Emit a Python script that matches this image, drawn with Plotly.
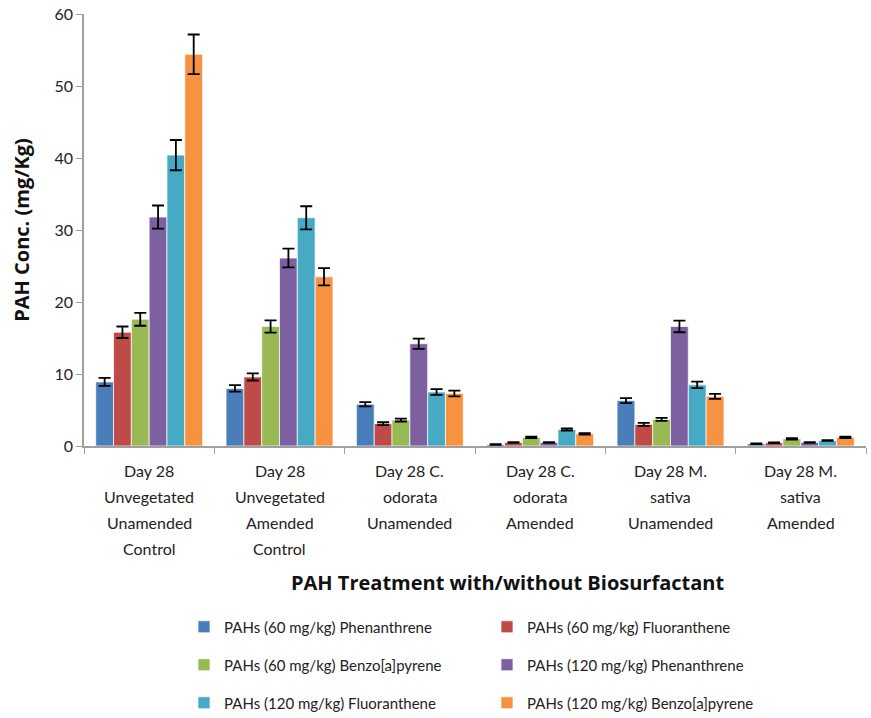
import plotly.graph_objects as go

categories = [
    "Day 28<br>Unvegetated<br>Unamended<br>Control",
    "Day 28<br>Unvegetated<br>Amended<br>Control",
    "Day 28 C.<br>odorata<br>Unamended",
    "Day 28 C.<br>odorata<br>Amended",
    "Day 28 M.<br>sativa<br>Unamended",
    "Day 28 M.<br>sativa<br>Amended",
]

series_names = [
    "PAHs (60 mg/kg) Phenanthrene",
    "PAHs (60 mg/kg) Fluoranthene",
    "PAHs (60 mg/kg) Benzo[a]pyrene",
    "PAHs (120 mg/kg) Phenanthrene",
    "PAHs (120 mg/kg) Fluoranthene",
    "PAHs (120 mg/kg) Benzo[a]pyrene",
]

phe_60 = [8.9, 8.0, 5.8, 0.2, 6.3, 0.3]
flu_60 = [15.8, 9.6, 3.1, 0.5, 3.0, 0.45]
bap_60 = [17.6, 16.6, 3.6, 1.2, 3.7, 1.0]
phe_120 = [31.8, 26.1, 14.2, 0.5, 16.6, 0.5]
flu_120 = [40.4, 31.7, 7.5, 2.3, 8.5, 0.75]
bap_120 = [54.4, 23.5, 7.3, 1.7, 6.9, 1.2]

err_phe_60 = [0.55, 0.45, 0.3, 0.05, 0.35, 0.05]
err_flu_60 = [0.8, 0.5, 0.2, 0.05, 0.2, 0.05]
err_bap_60 = [0.9, 0.85, 0.2, 0.1, 0.2, 0.1]
err_phe_120 = [1.6, 1.3, 0.7, 0.05, 0.8, 0.05]
err_flu_120 = [2.1, 1.6, 0.4, 0.15, 0.45, 0.05]
err_bap_120 = [2.75, 1.2, 0.4, 0.1, 0.35, 0.1]

values = [phe_60, flu_60, bap_60, phe_120, flu_120, bap_120]
errors = [err_phe_60, err_flu_60, err_bap_60, err_phe_120, err_flu_120, err_bap_120]
colors = ["#4A7EBB", "#BE4B48", "#98B954", "#7D60A0", "#46AAC5", "#F69240"]

FONT = "Lato, 'Open Sans', sans-serif"
TITLE_FONT = "'Open Sans', sans-serif"
PLOT_H = 432  # plot area height in px

fig = go.Figure()
legend_ids = ["legend", "legend", "legend2", "legend2", "legend3", "legend3"]
for name, vals, errs, col, lg in zip(series_names, values, errors, colors, legend_ids):
    fig.add_trace(go.Bar(
        x=categories, y=vals, name=name, legend=lg,
        marker=dict(color=col, line=dict(color="rgba(255,255,255,0.7)", width=1)),
        error_y=dict(type="data", array=errs, visible=True, color="black",
                     thickness=1.8, width=6),
    ))

# category labels, one annotation per line
line_gap = 26
for cat in categories:
    for i, line in enumerate(cat.split("<br>")):
        fig.add_annotation(
            x=cat, xref="x", y=-(24 + i * line_gap) / PLOT_H, yref="y domain",
            text=line, showarrow=False, font=dict(size=16, color="#222", family=FONT),
            yanchor="middle", xanchor="center",
        )

leg_common = dict(orientation="h", bgcolor="rgba(0,0,0,0)",
                  font=dict(size=15, color="#222", family=FONT),
                  entrywidth=258, entrywidthmode="pixels",
                  xref="container", yref="container", xanchor="left", yanchor="middle",
                  itemwidth=30, traceorder="normal")

fig.update_layout(
    width=871, height=718,
    margin=dict(l=84, r=5, t=14, b=272),
    plot_bgcolor="white", paper_bgcolor="white",
    barmode="group", bargap=0.18, bargroupgap=0,
    font=dict(family=FONT, color="#222"),
    showlegend=True,
    legend=dict(**leg_common, x=184 / 871, y=1 - 627 / 718),
    legend2=dict(**leg_common, x=184 / 871, y=1 - 665 / 718),
    legend3=dict(**leg_common, x=184 / 871, y=1 - 703 / 718),
    xaxis=dict(
        showticklabels=False, tickson="boundaries", ticks="outside", ticklen=6,
        tickcolor="#A0A0A0", showline=True, linecolor="#A0A0A0", linewidth=1.5,
        showgrid=False, zeroline=False,
    ),
    yaxis=dict(
        range=[0, 60], dtick=10, ticks="outside", ticklen=6, tickcolor="#A0A0A0",
        showline=True, linecolor="#A0A0A0", linewidth=1.5, showgrid=False, zeroline=False,
        tickfont=dict(size=16, color="#222", family=FONT),
        title=dict(text="<b>PAH Conc. (mg/Kg)</b>",
                   font=dict(size=20, color="#111", family=TITLE_FONT), standoff=19),
    ),
)

fig.add_annotation(
    text="<b>PAH Treatment with/without Biosurfactant</b>", showarrow=False,
    xref="paper", x=0.542, yref="paper", y=-(582 - 446) / PLOT_H,
    yanchor="middle", font=dict(size=20, color="#111", family=TITLE_FONT),
)

fig.write_html("out.html")
